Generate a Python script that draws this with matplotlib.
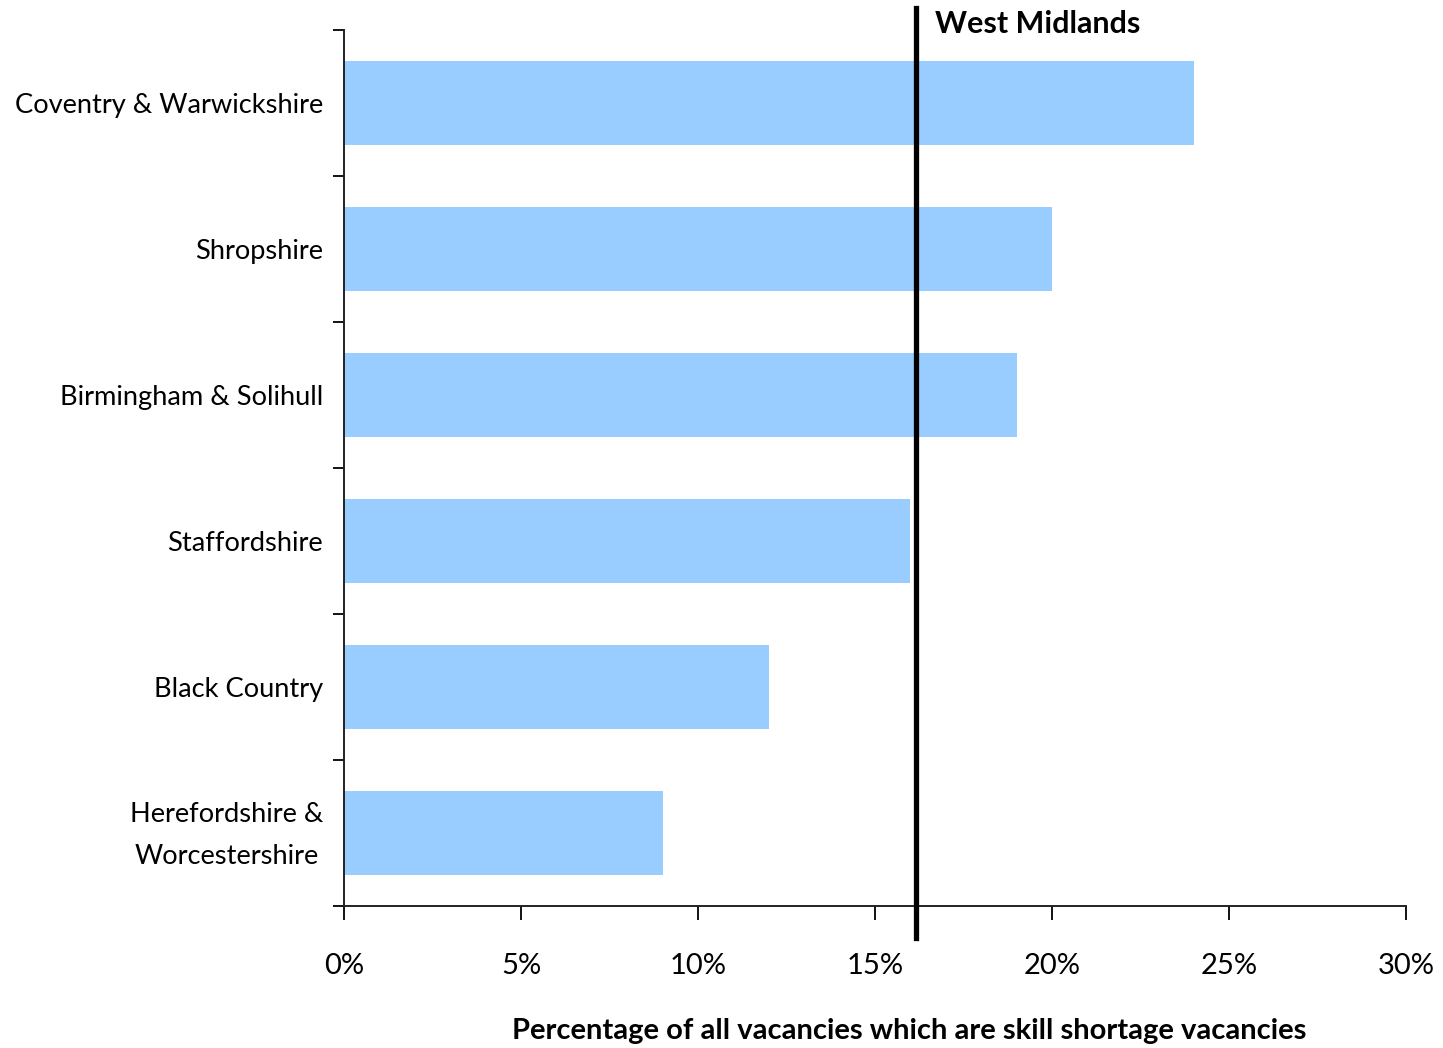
import numpy as np
import matplotlib.pyplot as plt
from matplotlib.ticker import FuncFormatter
import matplotlib.transforms as mtransforms

# data (top to bottom)
areas = ['Coventry & Warwickshire', 'Shropshire', 'Birmingham & Solihull',
         'Staffordshire', 'Black Country', 'Herefordshire &\nWorcestershire']
shares = [24.0, 20.0, 19.0, 16.0, 12.0, 9.0]
region_name = 'West Midlands'
region_share = 16.15
x_ticks = [0, 5, 10, 15, 20, 25, 30]

plt.rcParams['font.family'] = ['Lato', 'DejaVu Sans']

fig = plt.figure(figsize=(14.43, 10.48), dpi=100)
ax = fig.add_axes([344 / 1443, 1 - 906 / 1048, (1406 - 344) / 1443, (906 - 30) / 1048])

y = np.arange(len(areas))
ax.barh(y, shares, height=0.58, color='#99CCFF', zorder=2)
ax.set_ylim(len(areas) - 0.5, -0.5)
ax.set_xlim(0, 30)

# category boundary ticks on the y axis
ax.set_yticks(np.arange(len(areas) + 1) - 0.5)
ax.set_yticklabels([])
ax.set_yticks(y, minor=True)
ax.set_yticklabels(areas, minor=True, fontsize=19.6)
ax.tick_params(axis='y', which='minor', length=0, pad=15)
ax.tick_params(axis='y', which='major', length=8, width=1.3, direction='out')
shift = mtransforms.ScaledTranslation(0, 9 / 100, fig.dpi_scale_trans)
for lbl in ax.get_yticklabels(minor=True):
    lbl.set_multialignment('center')
    lbl.set_linespacing(1.9)
    if '\n' in lbl.get_text():
        lbl.set_transform(lbl.get_transform() + shift)

ax.set_xticks(x_ticks)
ax.xaxis.set_major_formatter(FuncFormatter(lambda v, p: f'{v:.0f}%'))
ax.tick_params(axis='x', length=10, width=1.3, direction='out', pad=24, labelsize=21)

for s in ['top', 'right']:
    ax.spines[s].set_visible(False)
for s in ['left', 'bottom']:
    ax.spines[s].set_linewidth(1.4)
    ax.spines[s].set_color('#222222')

# West Midlands reference line
trans = mtransforms.blended_transform_factory(ax.transData, ax.transAxes)
ax.plot([region_share, region_share], [-0.037, 1.025], transform=trans,
        color='black', linewidth=3.8, clip_on=False, zorder=3)
ax.text(region_share + 0.55, 1.007, region_name, transform=trans, fontsize=22,
        fontweight='bold', ha='left', va='center')

fig.text(0.630, 0.016, 'Percentage of all vacancies which are skill shortage vacancies',
         ha='center', va='center', fontsize=21, fontweight='bold')

fig.savefig('out.png', dpi=100)
